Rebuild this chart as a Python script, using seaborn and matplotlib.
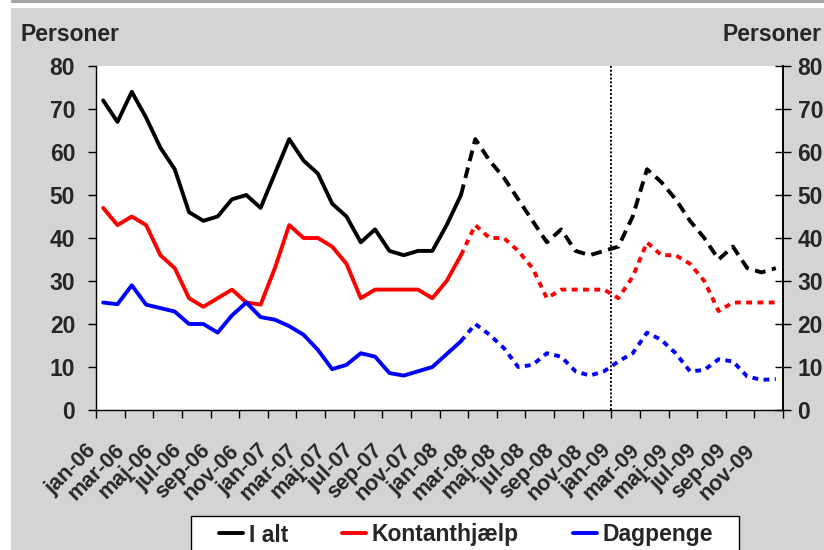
import pandas as pd
import matplotlib.pyplot as plt
import seaborn as sns
from matplotlib.patches import Rectangle
from matplotlib.lines import Line2D
from matplotlib.transforms import ScaledTranslation

# maaneder jan-06 .. dec-09
aar = ['06', '07', '08', '09']
mdr = ['jan', 'feb', 'mar', 'apr', 'maj', 'jun', 'jul', 'aug', 'sep', 'okt', 'nov', 'dec']
maaneder = [m + '-' + a for a in aar for m in mdr]

i_alt = [72, 67, 74, 68, 61, 56, 46, 44, 45, 49, 50, 47,
         55, 63, 58, 55, 48, 45, 39, 42, 37, 36, 37, 37,
         43, 50, 63, 58, 54, 49, 44, 39, 42, 37, 36, 37,
         38, 45, 56, 53, 49, 44, 40, 35, 38, 33, 32, 33]
kontant = [47, 43, 45, 43, 36, 33, 26, 24, 26, 28, 25, 24.5,
           33, 43, 40, 40, 38, 34, 26, 28, 28, 28, 28, 26,
           30, 36, 43, 40, 40, 37, 33, 26, 28, 28, 28, 28,
           26, 31, 39, 36, 36, 34, 30, 23, 25, 25, 25, 25]
dagpenge = [25, 24.6, 29, 24.5, 23.7, 22.9, 20, 20, 18, 22, 25, 21.6,
            21, 19.5, 17.5, 14, 9.5, 10.5, 13.2, 12.4, 8.6, 8, 9, 10,
            13, 16, 20, 17.5, 14.4, 10, 10.5, 13.2, 12.4, 9, 8, 9,
            11.3, 13.2, 18, 16.3, 13.2, 9, 9.3, 11.8, 11.3, 7.8, 7, 7.2]

serier = ['I alt', 'Kontanthjælp', 'Dagpenge']
farver = ['black', 'red', 'blue']
sidste_faktisk = 25  # feb-08, herefter prognose (stiplet)
skillelinje = 'jan-09'

df = pd.DataFrame({'maaned': maaneder, 'I alt': i_alt,
                   'Kontanthjælp': kontant, 'Dagpenge': dagpenge})
df['x'] = range(len(df))

sns.set_theme(style='white')
plt.rcParams['font.family'] = ['Liberation Sans', 'DejaVu Sans']
plt.rcParams['font.weight'] = 'bold'
fs = 16.5
fs_x = 15.5

fig = plt.figure(figsize=(8.24, 5.5), dpi=100)
fig.patch.set_facecolor('white')
# graa baggrund + mork streg i toppen
fig.patches.append(Rectangle((11 / 824, 0), 1, 542 / 550, transform=fig.transFigure,
                             facecolor='#d4d4d4', edgecolor='none', zorder=-10))
fig.patches.append(Rectangle((11 / 824, 547 / 550), 1, 3 / 550, transform=fig.transFigure,
                             facecolor='#a3a3a3', edgecolor='none', zorder=-10))

ax = fig.add_axes([96 / 824, 140 / 550, 687 / 824, 344 / 550])
ax.set_facecolor('white')

lw = 2.8
streger = {'I alt': (0, (2.8, 1.7)), 'Kontanthjælp': (0, (1.5, 1.4)), 'Dagpenge': (0, (1.5, 1.4))}
for navn, farve in zip(serier, farver):
    faktisk = df.iloc[:sidste_faktisk + 1]
    prognose = df.iloc[sidste_faktisk:]
    sns.lineplot(data=faktisk, x='x', y=navn, color=farve, lw=lw, ax=ax,
                 solid_joinstyle='round', solid_capstyle='round')
    sns.lineplot(data=prognose, x='x', y=navn, color=farve, lw=lw, ax=ax,
                 linestyle=streger[navn], dash_capstyle='butt')

# lodret prikket linje ved jan-09
xv = maaneder.index(skillelinje) - 0.5
ax.axvline(xv, color='black', lw=1.4, linestyle=(0, (1, 1)), zorder=1)

ax.set_xlim(-0.5, len(df) - 0.5)
ax.set_ylim(0, 80)
ax.set_yticks(range(0, 81, 10))
ax.set_xlabel('')
ax.set_ylabel('')

ticks = [k - 0.5 for k in range(0, len(df) + 1, 2)]
ax.set_xticks(ticks)
ax.set_xticklabels(maaneder[::2] + [''], rotation=45, ha='right', va='center',
                   rotation_mode='anchor', fontsize=fs_x, fontweight='bold')
ax.tick_params(axis='x', direction='out', length=6, width=1, color='black', pad=21, bottom=True)
skub = ScaledTranslation(-3 / 100, 0, fig.dpi_scale_trans)
for lbl in ax.get_xticklabels():
    lbl.set_transform(lbl.get_transform() + skub)
ax.tick_params(axis='y', direction='out', length=6, width=1, color='black', pad=9, left=True,
               labelsize=fs)
for lbl in ax.get_yticklabels():
    lbl.set_fontweight('bold')

for s in ['left', 'bottom']:
    ax.spines[s].set_color('black')
    ax.spines[s].set_linewidth(1)
ax.spines['top'].set_visible(False)
ax.spines['right'].set_color('black')

ax2 = ax.twinx()
ax2.set_ylim(0, 80)
ax2.set_yticks(range(0, 81, 10))
ax2.tick_params(axis='y', direction='inout', length=11, width=1, color='black', pad=5, right=True,
                labelsize=fs)
for lbl in ax2.get_yticklabels():
    lbl.set_fontweight('bold')
for s in ['left', 'bottom', 'top']:
    ax2.spines[s].set_visible(False)
ax2.spines['right'].set_color('black')
ax2.grid(False)
ax.grid(False)

fig.text(20 / 824, 1 - 41 / 550, 'Personer', fontsize=fs, fontweight='bold', va='baseline')
fig.text(822 / 824, 1 - 41 / 550, 'Personer', fontsize=fs, fontweight='bold', va='baseline',
         ha='right')

# legende-ramme tegnes selv
fig.patches.append(Rectangle((191 / 824, -20 / 550), 548 / 824, 54 / 550, transform=fig.transFigure,
                             facecolor='white', edgecolor='black', lw=1, zorder=5))
handles = [Line2D([0], [0], color=f, lw=lw) for f in farver]
leg = fig.legend(handles, serier, loc='center left', bbox_to_anchor=(219 / 824, 1 - 535 / 550),
                 ncol=3, frameon=False, prop={'size': fs, 'weight': 'bold'},
                 handlelength=1.05, handletextpad=0.25, columnspacing=2.35,
                 borderpad=0, borderaxespad=0)
leg.set_zorder(6)

fig.savefig('out.png', dpi=100)
